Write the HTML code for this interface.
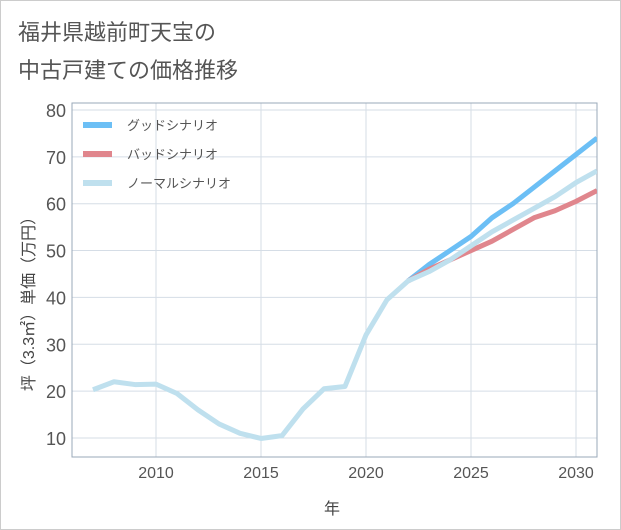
<!DOCTYPE html>
<html><head><meta charset="utf-8"><style>
body{margin:0;background:#fff;}
#wrap{position:relative;width:619px;height:528px;border:1px solid #ccc;background:#fff;font-family:"Liberation Sans","Noto Sans CJK JP",sans-serif;}
svg text{font-family:"Liberation Sans","Noto Sans CJK JP",sans-serif;}
</style></head><body>
<div id="wrap">
<svg id="c" width="621" height="530" style="position:absolute;left:-1px;top:-1px">
<text x="18" y="40" font-size="22" fill="#555">福井県越前町天宝の</text>
<text x="18" y="78" font-size="22" fill="#555">中古戸建ての価格推移</text>
<g id="grid"></g><g id="series"></g><g id="legend"></g>
<text x="332" y="514" font-size="16" fill="#444" text-anchor="middle">年</text>
<text transform="translate(34,300) rotate(-90)" font-size="16" fill="#444" text-anchor="middle">坪（3.3㎡）単価（万円）</text>
</svg></div>
<script>
const years=[2007,2008,2009,2010,2011,2012,2013,2014,2015,2016,2017,2018,2019,2020,2021,2022,2023,2024,2025,2026,2027,2028,2029,2030,2031];
const normal=[20.3,22,21.4,21.5,19.5,16,13,11,9.9,10.5,16.2,20.5,21,32,39.5,43.5,45.5,48,51,54,56.5,59,61.5,64.5,67];
const goodYears=[2022,2023,2024,2025,2026,2027,2028,2029,2030,2031];
const good=[43.5,47,50,53,57,60,63.5,67,70.5,74];
const bad=[43.5,46,48,50,52,54.5,57,58.5,60.5,62.8];
const xTicks=[2010,2015,2020,2025,2030];
const yTicks=[10,20,30,40,50,60,70,80];
const L=72,R=597,T=103,B=457;
const x=v=>L+(v-2006)*21;
const y=v=>438-(v-10)*4.686;
const NS="http://www.w3.org/2000/svg";
function mk(tag,attrs,parent){const e=document.createElementNS(NS,tag);for(const k in attrs)e.setAttribute(k,attrs[k]);parent.appendChild(e);return e;}
const g=document.getElementById('grid');
yTicks.forEach(v=>{
 const l=mk('line',{x1:L,x2:R,y1:y(v),y2:y(v),stroke:'#d5dde6','stroke-width':1},g);
 
 
 const t=mk('text',{x:L-6,y:y(v)+7,'font-size':18,fill:'#555','text-anchor':'end'},g);t.textContent=v;
 
 
});
xTicks.forEach(v=>{
 const l=mk('line',{x1:x(v),x2:x(v),y1:T,y2:B,stroke:'#d5dde6','stroke-width':1},g);
 
 
 const t=mk('text',{x:x(v),y:B+21,'font-size':16,fill:'#555','text-anchor':'middle'},g);t.textContent=v;
 
 
});
const fr=mk('rect',{x:L,y:T,width:R-L,height:B-T,fill:'none',stroke:'#9aa8b8','stroke-width':1},g);


const s=document.getElementById('series');
const clip=mk('clipPath',{id:'cp'},s);mk('rect',{x:L,y:T,width:R-L,height:B-T},clip);
function line(xs,ys,col,name){
 const p=mk('polyline',{points:xs.map((v,i)=>x(v)+','+y(ys[i])).join(' '),fill:'none',stroke:col,'stroke-width':5,'stroke-linejoin':'round','clip-path':'url(#cp)'},s);
 
 
}
line(goodYears,good,'#6cbff5','good-scenario-line');
line(goodYears,bad,'#e0868d','bad-scenario-line');
line(years,normal,'#bfe0ee','normal-scenario-line');
const lg=document.getElementById('legend');
[['グッドシナリオ','#6cbff5'],['バッドシナリオ','#e0868d'],['ノーマルシナリオ','#bfe0ee']].forEach((d,i)=>{
 const yy=125+i*29;
 const l=mk('line',{x1:83,x2:112,y1:yy,y2:yy,stroke:d[1],'stroke-width':6},lg);
 
 
 const t=mk('text',{x:127,y:yy+5,'font-size':13,fill:'#555'},lg);t.textContent=d[0];
 
 
});
</script></body></html>
